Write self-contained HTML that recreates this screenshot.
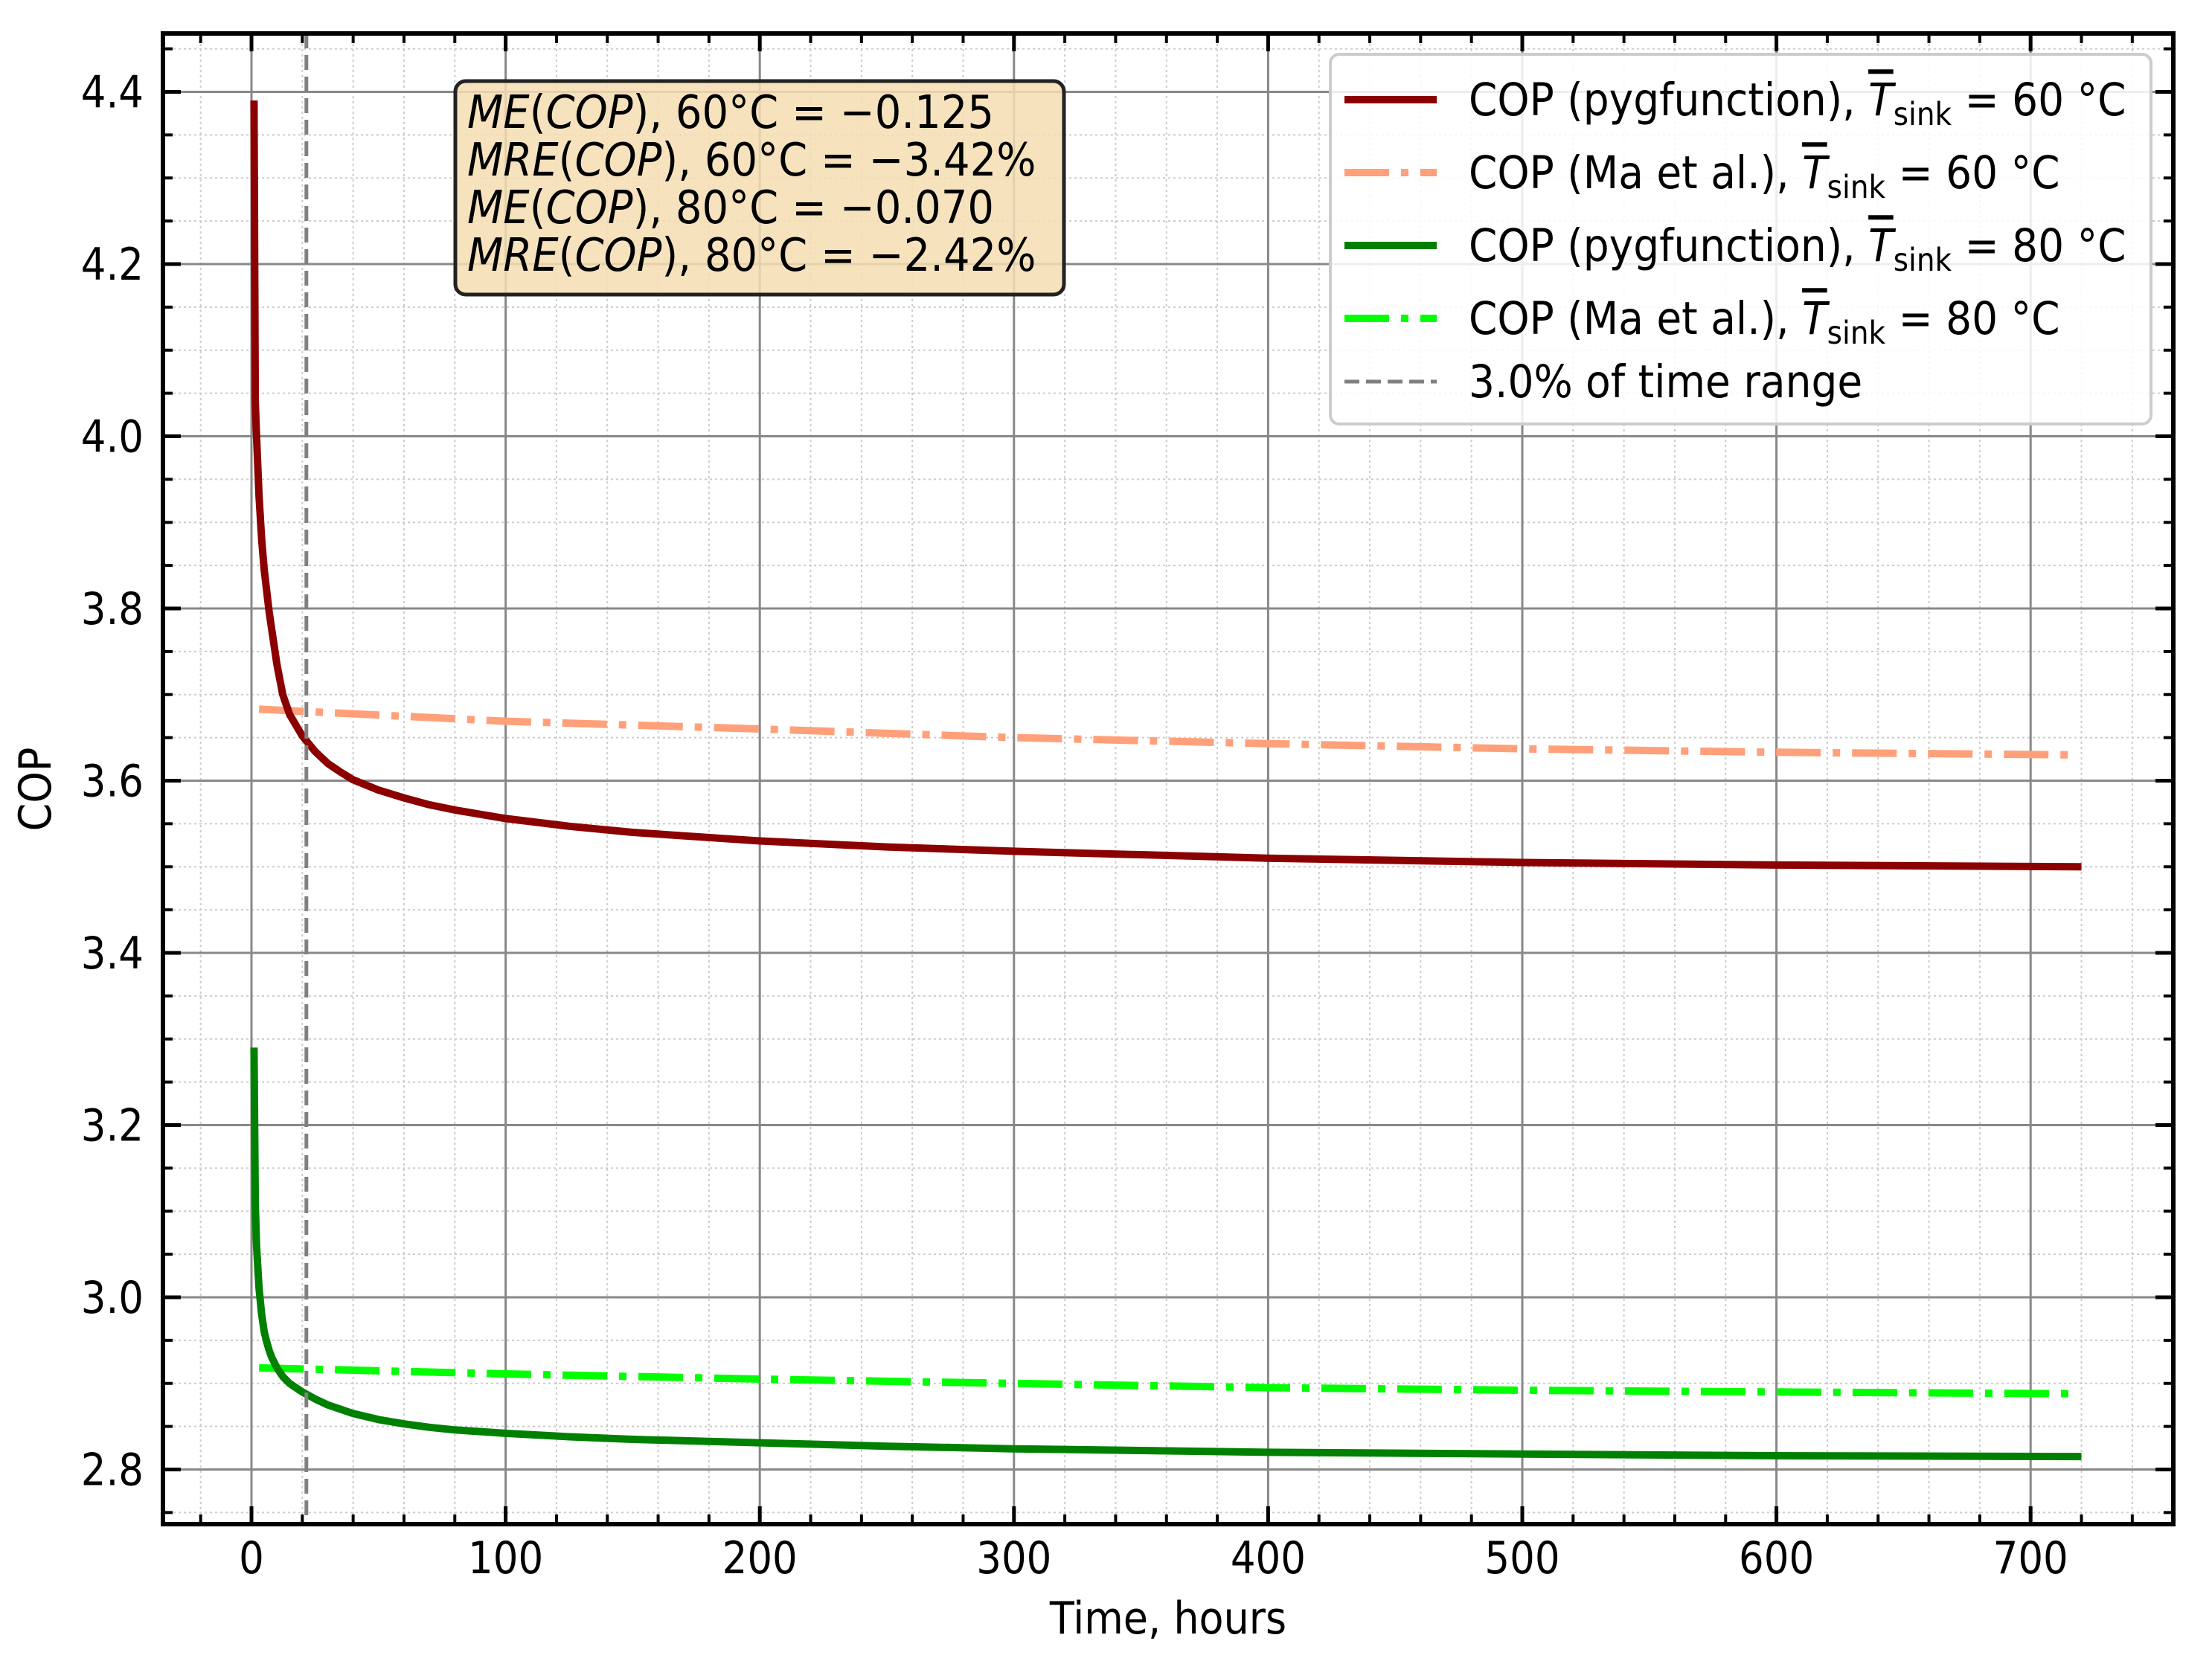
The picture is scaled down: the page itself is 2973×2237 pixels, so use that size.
<!DOCTYPE html>
<html><head><meta charset="utf-8"><style>
html,body{margin:0;padding:0;background:#fff;}
svg{display:block;font-family:"DejaVu Sans","Liberation Sans",sans-serif;}
</style></head><body>
<svg id="chart" width="2973" height="2237" viewBox="0 0 2973 2237" xmlns="http://www.w3.org/2000/svg">
<rect x="0" y="0" width="2973" height="2237" fill="#fff"/>
<g id="grid-minor"></g>
<g id="grid-major"></g>
<g id="series"></g>
<g id="axes"></g>
<g>
 <rect x="612" y="109" width="818" height="287" rx="14" fill="#f5deb3" fill-opacity="0.85" stroke="#222" stroke-width="5"/>
 <text transform="translate(628,172) scale(1,1.1)" font-size="56" fill="#000"><tspan font-style="italic">ME</tspan>(<tspan font-style="italic">COP</tspan>), 60°C = −0.125</text>
 <text transform="translate(628,236) scale(1,1.1)" font-size="56" fill="#000"><tspan font-style="italic">MRE</tspan>(<tspan font-style="italic">COP</tspan>), 60°C = −3.42%</text>
 <text transform="translate(628,300) scale(1,1.1)" font-size="56" fill="#000"><tspan font-style="italic">ME</tspan>(<tspan font-style="italic">COP</tspan>), 80°C = −0.070</text>
 <text transform="translate(628,364) scale(1,1.1)" font-size="56" fill="#000"><tspan font-style="italic">MRE</tspan>(<tspan font-style="italic">COP</tspan>), 80°C = −2.42%</text>
</g>
<g id="legend">
 <rect x="1788" y="73" width="1103" height="497" rx="12" fill="#fff" fill-opacity="0.85" stroke="#ccc" stroke-width="4"/>
</g>
<text transform="translate(1570,2196) scale(1,1.1)" font-size="54" text-anchor="middle">Time, hours</text>
<text transform="translate(68,1061) rotate(-90) scale(1,1.1)" font-size="54" text-anchor="middle">COP</text>
</svg>
<script>
const tRed = [1,1.5,2,3,4,5,6,7,8,10,12.3,15,20,25,30,35,40,50,60,70,80,100,125,150,200,250,300,400,500,600,720];
const copRed = [4.39,4.04,4.00,3.93,3.88,3.845,3.82,3.795,3.775,3.735,3.70,3.677,3.652,3.634,3.62,3.61,3.601,3.589,3.58,3.572,3.566,3.556,3.547,3.54,3.53,3.523,3.518,3.51,3.505,3.502,3.50];
const tGreen = [1,1.5,2,3,4,5,6,7,8,10,12.3,15,20,25,30,35,40,50,60,70,80,100,125,150,200,250,300,400,500,600,720];
const copGreen = [3.29,3.11,3.06,3.01,2.98,2.96,2.948,2.938,2.93,2.918,2.908,2.9,2.89,2.882,2.875,2.87,2.865,2.858,2.853,2.849,2.846,2.842,2.838,2.835,2.831,2.827,2.824,2.82,2.818,2.816,2.815];
const tMa = [3,100,200,300,400,500,600,715];
const copMa60 = [3.683,3.669,3.66,3.65,3.643,3.637,3.633,3.630];
const copMa80 = [2.918,2.911,2.905,2.900,2.895,2.892,2.890,2.888];
const xTicks = [0,100,200,300,400,500,600,700];
const yTicks = [2.8,3.0,3.2,3.4,3.6,3.8,4.0,4.2,4.4];
const cutoffT = 21.6;

const L=219,R=2921,T=45,B=2049;
const NS='http://www.w3.org/2000/svg';
function xs(t){return 338+3.416*t;}
function ys(v){return 1049.5-(v-3.6)*1157.5;}
function mk(tag,attrs,parent){const e=document.createElementNS(NS,tag);for(const k in attrs)e.setAttribute(k,attrs[k]);parent.appendChild(e);return e;}
const gMin=document.getElementById('grid-minor'),gMaj=document.getElementById('grid-major'),gS=document.getElementById('series'),gA=document.getElementById('axes');

for(let t=-20;t<=740;t+=20){const x=xs(t);if(x<=L||x>=R)continue;
 const ln=mk('line',{x1:x,y1:T,x2:x,y2:B,stroke:'#ccc','stroke-width':2,'stroke-dasharray':'3,4'},gMin);
 
 
 mk('line',{x1:x,y1:B,x2:x,y2:B-13,stroke:'#000','stroke-width':4},gA);
 mk('line',{x1:x,y1:T,x2:x,y2:T+13,stroke:'#000','stroke-width':4},gA);}
for(let k=0;k<=40;k++){const v=2.75+k*0.05;const y=ys(v);if(y<=T||y>=B)continue;
 const ln=mk('line',{x1:L,y1:y,x2:R,y2:y,stroke:'#ccc','stroke-width':2,'stroke-dasharray':'3,4'},gMin);
 
 
 mk('line',{x1:L,y1:y,x2:L+13,y2:y,stroke:'#000','stroke-width':4},gA);
 mk('line',{x1:R,y1:y,x2:R-13,y2:y,stroke:'#000','stroke-width':4},gA);}
xTicks.forEach(t=>{const x=xs(t);
 const ln=mk('line',{x1:x,y1:T,x2:x,y2:B,stroke:'#888','stroke-width':3},gMaj);
 
 
 mk('line',{x1:x,y1:B,x2:x,y2:B-24,stroke:'#000','stroke-width':5},gA);
 mk('line',{x1:x,y1:T,x2:x,y2:T+24,stroke:'#000','stroke-width':5},gA);
 const tx=mk('text',{transform:'translate('+x+',2115) scale(1,1.12)','font-size':53,'text-anchor':'middle'},gA);tx.textContent=String(t);
 
 });
yTicks.forEach(v=>{const y=ys(v);
 const ln=mk('line',{x1:L,y1:y,x2:R,y2:y,stroke:'#888','stroke-width':3},gMaj);
 
 
 mk('line',{x1:L,y1:y,x2:L+24,y2:y,stroke:'#000','stroke-width':5},gA);
 mk('line',{x1:R,y1:y,x2:R-24,y2:y,stroke:'#000','stroke-width':5},gA);
 const tx=mk('text',{transform:'translate(193,'+(y+21)+') scale(1,1.12)','font-size':53,'text-anchor':'end'},gA);tx.textContent=v.toFixed(1);
 
 });
const frame=mk('rect',{x:L,y:T,width:R-L,height:B-T,fill:'none',stroke:'#000','stroke-width':6},gA);



function pts(ts,vs){return ts.map((t,i)=>xs(t).toFixed(1)+','+ys(vs[i]).toFixed(1)).join(' ');}
const DD='60,16,10,16';
const s1=mk('polyline',{points:pts(tMa,copMa60),fill:'none',stroke:'#ffa07a','stroke-width':10,'stroke-dasharray':DD},gS);


const s2=mk('polyline',{points:pts(tMa,copMa80),fill:'none',stroke:'#00ff00','stroke-width':10,'stroke-dasharray':DD},gS);


const s3=mk('polyline',{points:pts(tRed,copRed),fill:'none',stroke:'#8b0000','stroke-width':10,'stroke-linejoin':'round'},gS);


const s4=mk('polyline',{points:pts(tGreen,copGreen),fill:'none',stroke:'#008000','stroke-width':10,'stroke-linejoin':'round'},gS);


const cl=mk('line',{x1:xs(cutoffT),y1:T,x2:xs(cutoffT),y2:B,stroke:'#808080','stroke-width':5,'stroke-dasharray':'20,9'},gS);



const gL=document.getElementById('legend');
const entries=[
 {c:'#8b0000',d:null,a:'COP (pygfunction), ',v:'60',y:134},
 {c:'#ffa07a',d:DD,a:'COP (Ma et al.), ',v:'60',y:232},
 {c:'#008000',d:null,a:'COP (pygfunction), ',v:'80',y:330},
 {c:'#00ff00',d:DD,a:'COP (Ma et al.), ',v:'80',y:428}];
entries.forEach(e=>{
 const ln=mk('line',{x1:1807,y1:e.y,x2:1931,y2:e.y,stroke:e.c,'stroke-width':10},gL);
 if(e.d)ln.setAttribute('stroke-dasharray',DD);
 
 
 const tx=mk('text',{transform:'translate(1974,'+(e.y+21)+') scale(1,1.1)','font-size':55},gL);
 
 
 mk('tspan',{},tx).textContent=e.a;
 const tt=mk('tspan',{'font-style':'italic','text-decoration':'overline'},tx);tt.textContent='T';
 mk('tspan',{'font-size':39,dy:12},tx).textContent='sink';
 mk('tspan',{dy:-12},tx).textContent=' = '+e.v+' °C';
});
const dl=mk('line',{x1:1807,y1:513,x2:1931,y2:513,stroke:'#808080','stroke-width':5,'stroke-dasharray':'20,9'},gL);


const dt=mk('text',{transform:'translate(1974,534) scale(1,1.1)','font-size':55},gL);dt.textContent='3.0% of time range';


</script>
</body></html>
